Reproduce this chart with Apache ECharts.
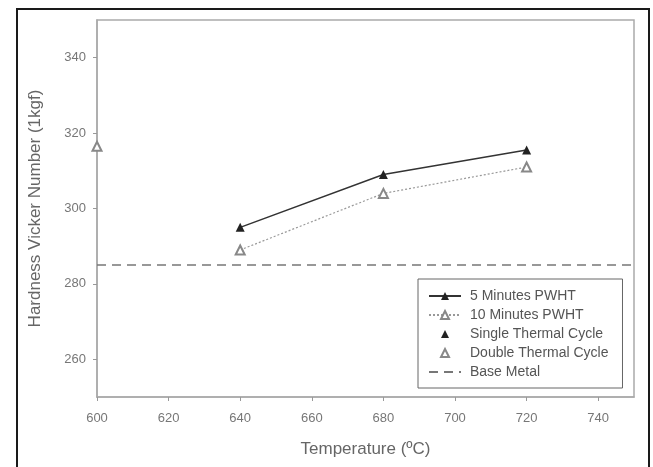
<!DOCTYPE html>
<html>
<head>
<meta charset="utf-8">
<script src="https://cdn.jsdelivr.net/npm/echarts@6/dist/echarts.min.js"></script>
<style>
  html, body { margin: 0; padding: 0; background: #fff; }
  #chart { width: 653px; height: 467px; }
</style>
</head>
<body>
<div id="chart"></div>
<script>
// values
var temps = [640, 680, 720]
var fiveMin = [295, 309, 315.5]
var tenMin = [289, 304, 311]
var singleCycle = []            // legend only, no visible mark
var doubleCycle = [[600, 316.5]]
var baseMetal = 285
var xTicks = [600, 620, 640, 660, 680, 700, 720, 740]
var yTicks = [260, 280, 300, 320, 340]

function pairs(xs, ys) {
  var out = []
  xs.forEach((x, i) => out.push([x, ys[i]]))
  return out
}

var chart = echarts.init(document.getElementById('chart'))
var font = 'Liberation Sans, Arial, sans-serif'

var option = {
  animation: false,
  backgroundColor: '#fff',
  textStyle: { fontFamily: font },
  graphic: [{
    type: 'rect',
    shape: { x: 17, y: 9, width: 632, height: 480 },
    style: { fill: 'none', stroke: '#1a1a1a', lineWidth: 2 },
    z: 100
  }],
  grid: {
    left: 97, right: 19, top: 20, bottom: 70,
    show: true, borderColor: '#aaa', borderWidth: 1.5
  },
  legend: {
    orient: 'vertical',
    left: 418, top: 279,
    padding: [10, 14, 9, 10],
    itemGap: 5,
    itemWidth: 32, itemHeight: 10,
    backgroundColor: '#fff',
    borderColor: '#666', borderWidth: 1,
    textStyle: { fontFamily: font, fontSize: 14, color: '#555', padding: [0, 0, 0, 4] },
    data: ['5 Minutes PWHT', '10 Minutes PWHT', 'Single Thermal Cycle', 'Double Thermal Cycle', 'Base Metal']
  },
  xAxis: {
    type: 'value',
    min: 600, max: 750,
    name: 'Temperature (ºC)',
    nameLocation: 'middle',
    nameGap: 44,
    nameTextStyle: { fontFamily: font, fontSize: 17, color: '#666' },
    axisLine: { show: true, lineStyle: { color: '#aaa', width: 1.5 } },
    axisTick: { show: true, length: 4, customValues: xTicks, lineStyle: { color: '#999' } },
    axisLabel: { customValues: xTicks, color: '#777', fontSize: 13, margin: 15, fontFamily: font },
    splitLine: { show: false }
  },
  yAxis: {
    type: 'value',
    min: 250, max: 350,
    name: 'Hardness Vicker Number (1kgf)',
    nameLocation: 'middle',
    nameGap: 53,
    nameTextStyle: { fontFamily: font, fontSize: 17, color: '#666' },
    axisLine: { show: true, lineStyle: { color: '#aaa', width: 1.5 } },
    axisTick: { show: true, length: 4, customValues: yTicks, lineStyle: { color: '#999' } },
    axisLabel: { customValues: yTicks, color: '#777', fontSize: 13, margin: 11, fontFamily: font },
    splitLine: { show: false }
  },
  series: [
    {
      name: '5 Minutes PWHT',
      type: 'line',
      data: pairs(temps, fiveMin),
      symbol: 'triangle', symbolSize: 9,
      itemStyle: { color: '#222' },
      lineStyle: { color: '#333', width: 1.5 },
      z: 5
    },
    {
      name: '10 Minutes PWHT',
      type: 'line',
      data: pairs(temps, tenMin),
      symbol: 'emptyTriangle', symbolSize: 9,
      itemStyle: { color: '#888', borderWidth: 1 },
      lineStyle: { color: '#999', width: 1.2, type: [2, 2] },
      z: 4
    },
    {
      name: 'Single Thermal Cycle',
      type: 'line',
      data: singleCycle,
      symbol: 'triangle', symbolSize: 9,
      itemStyle: { color: '#222' },
      lineStyle: { width: 0, opacity: 0 }
    },
    {
      name: 'Double Thermal Cycle',
      type: 'line',
      data: doubleCycle,
      symbol: 'emptyTriangle', symbolSize: 9,
      clip: false,
      itemStyle: { color: '#888' },
      lineStyle: { width: 0, opacity: 0 },
      z: 6
    },
    {
      name: 'Base Metal',
      type: 'line',
      data: [[600, baseMetal], [750, baseMetal]],
      symbol: 'none',
      itemStyle: { color: 'rgba(0,0,0,0)' },
      lineStyle: { color: '#777', width: 1.5, type: [9, 6] },
      z: 3
    }
  ]
}

chart.setOption(option)
</script>
</body>
</html>
